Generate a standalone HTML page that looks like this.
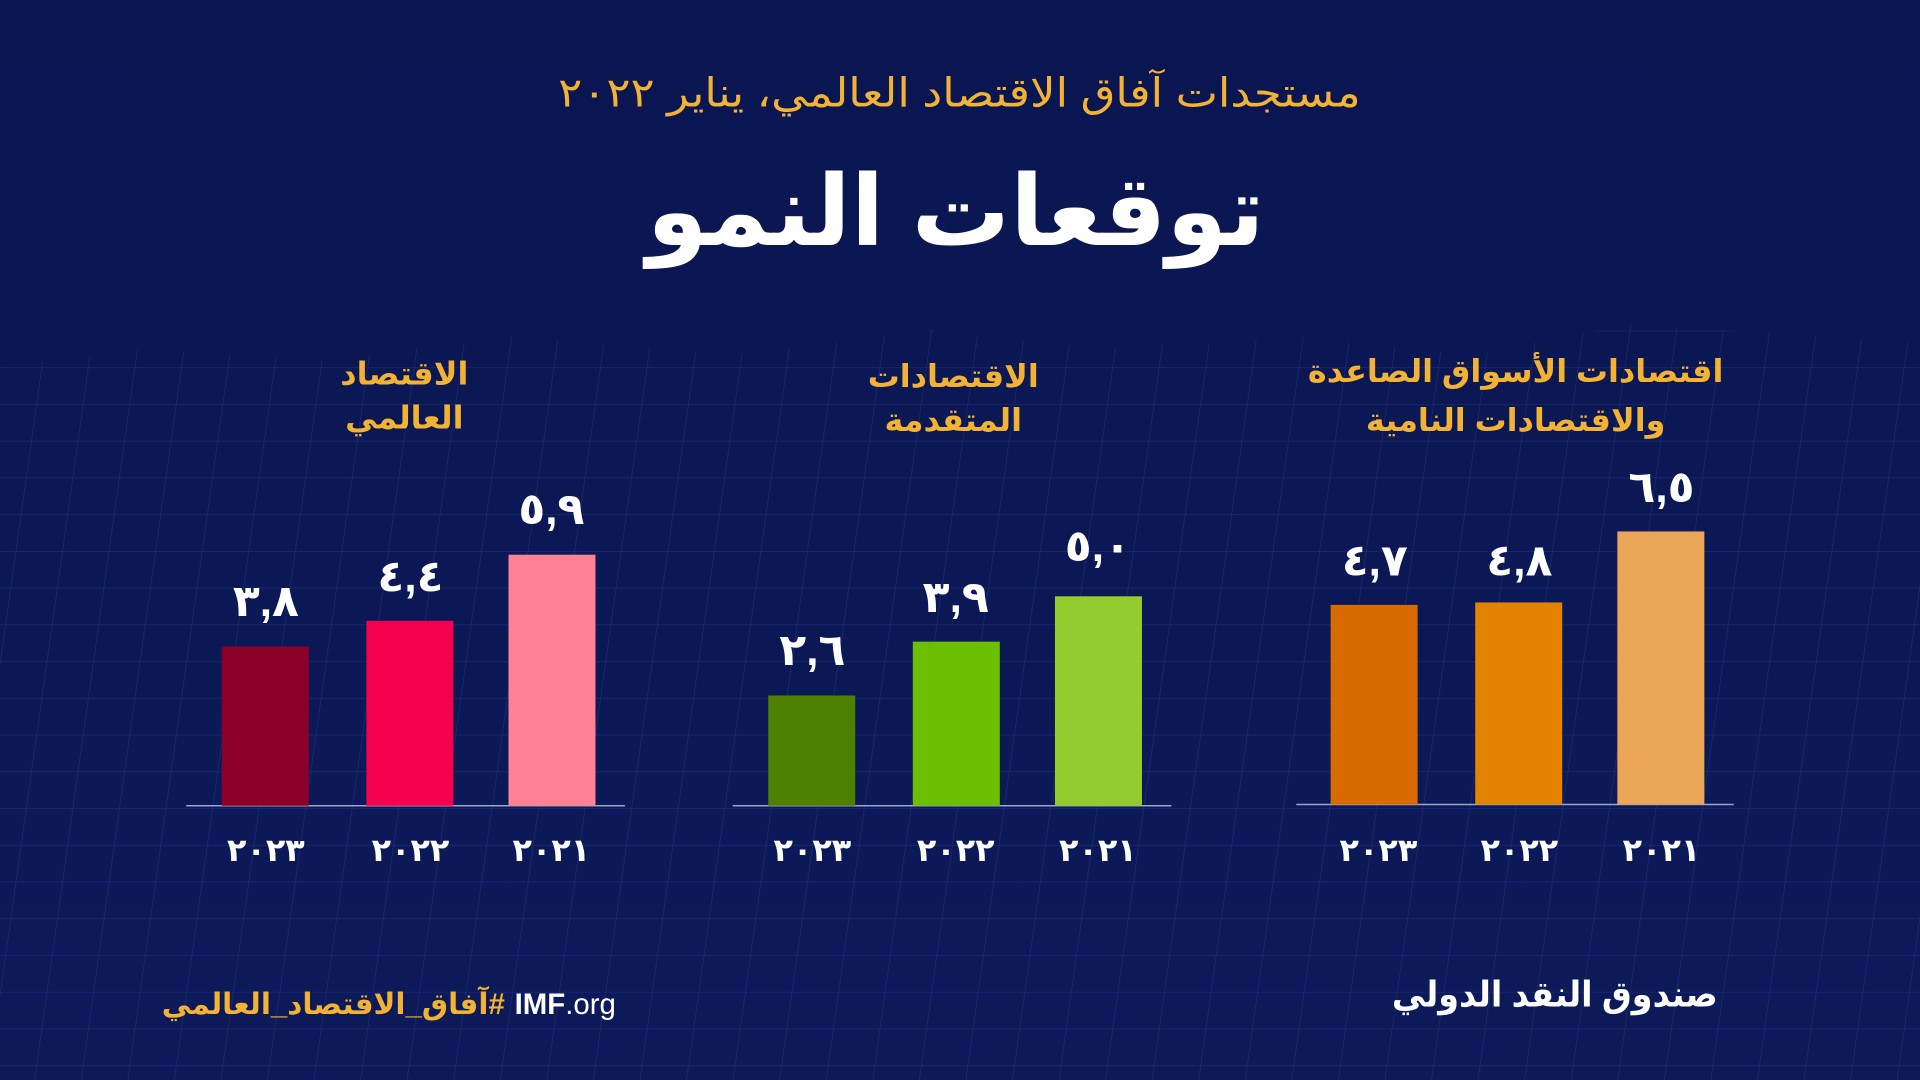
<!DOCTYPE html>
<html><head><meta charset="utf-8"><style>
html,body{margin:0;padding:0;background:#0a1550;overflow:hidden}
svg{display:block}
text{font-family:"Liberation Sans","DejaVu Sans",sans-serif}
</style></head><body>
<svg width="1920" height="1080" viewBox="0 0 1567 882" preserveAspectRatio="none" xmlns="http://www.w3.org/2000/svg">
<defs>
<linearGradient id="bg" x1="0" y1="0" x2="0" y2="1">
<stop offset="0" stop-color="#0a1650"/><stop offset="1" stop-color="#0c1a5a"/>
</linearGradient>
<pattern id="mesh" width="38" height="30" patternUnits="userSpaceOnUse" patternTransform="skewX(-8)">
<path d="M0 0H38M0 0V30" stroke="#2a3f96" stroke-width="1" fill="none" opacity="0.55"/>
</pattern>
</defs>
<rect width="1567" height="882" fill="url(#bg)"/>
<path d="M0 300 L120 285 L260 295 L420 275 L600 290 L760 270 L900 285 L1060 275 L1200 290 L1330 265 L1567 280 L1567 882 L0 882Z" fill="url(#mesh)"/>
<g direction="rtl" text-anchor="middle">
<text x="783" y="87" font-size="33" fill="#f2b233" textLength="655" lengthAdjust="spacingAndGlyphs">مستجدات آفاق الاقتصاد العالمي، يناير ٢٠٢٢</text>
<text x="780" y="200" font-size="80" font-weight="bold" fill="#ffffff">توقعات النمو</text>
<g font-size="26" font-weight="bold" fill="#f2b233">
<text x="330" y="314">الاقتصاد</text><text x="330" y="350">العالمي</text>
<text x="778" y="316">الاقتصادات</text><text x="778" y="352">المتقدمة</text>
<text x="1237" y="312">اقتصادات الأسواق الصاعدة</text><text x="1237" y="352">والاقتصادات النامية</text>
</g>
</g>
<g stroke="#9aa4c8" stroke-width="1.2">
<line x1="152" y1="658" x2="510" y2="658"/><line x1="598" y1="658" x2="956" y2="658"/><line x1="1058" y1="657" x2="1415" y2="657"/>
</g>
<rect x="181" y="528" width="71" height="130" fill="#8b0028"/>
<rect x="299" y="507" width="71" height="151" fill="#f5004f"/>
<rect x="415" y="453" width="71" height="205" fill="#ff8294"/>
<rect x="627" y="568" width="71" height="90" fill="#4f7f00"/>
<rect x="745" y="524" width="71" height="134" fill="#6bbf00"/>
<rect x="861" y="487" width="71" height="171" fill="#94cc30"/>
<rect x="1086" y="494" width="71" height="163" fill="#d96a00"/>
<rect x="1204" y="492" width="71" height="165" fill="#e38300"/>
<rect x="1320" y="434" width="71" height="223" fill="#eba557"/>
<g font-size="36" font-weight="bold" fill="#fff" text-anchor="middle">
<text x="217" y="503">٣,٨</text><text x="335" y="483">٤,٤</text><text x="450" y="428">٥,٩</text>
<text x="663" y="543">٢,٦</text><text x="780" y="500">٣,٩</text><text x="896" y="458">٥,٠</text>
<text x="1122" y="470">٤,٧</text><text x="1240" y="470">٤,٨</text><text x="1356" y="410">٦,٥</text>
</g>
<g font-size="26" font-weight="bold" fill="#fff" text-anchor="middle">
<text x="217" y="703">٢٠٢٣</text><text x="335" y="703">٢٠٢٢</text><text x="450" y="703">٢٠٢١</text>
<text x="663" y="703">٢٠٢٣</text><text x="780" y="703">٢٠٢٢</text><text x="896" y="703">٢٠٢١</text>
<text x="1125" y="703">٢٠٢٣</text><text x="1240" y="703">٢٠٢٢</text><text x="1356" y="703">٢٠٢١</text>
</g>
<text x="272" y="828" font-size="24" font-weight="bold" fill="#f2b233" text-anchor="middle" direction="rtl">#آفاق_الاقتصاد_العالمي</text>
<text x="420" y="828" font-size="24" fill="#fff"><tspan font-weight="bold">IMF</tspan>.org</text>
<text x="1269" y="822" font-size="29" font-weight="bold" fill="#fff" text-anchor="middle" direction="rtl" textLength="266" lengthAdjust="spacingAndGlyphs">صندوق النقد الدولي</text>
</svg>
</body></html>
